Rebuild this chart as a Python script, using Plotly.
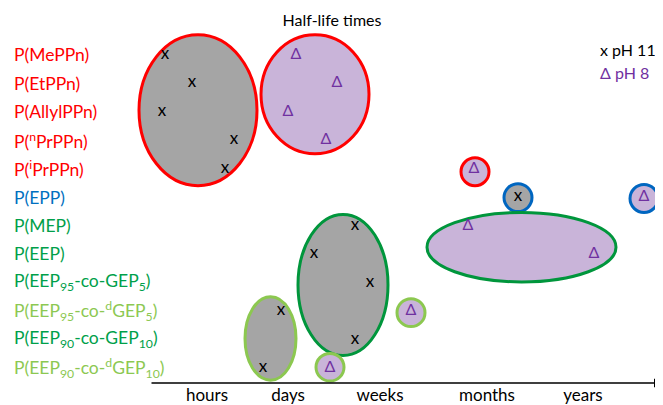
import plotly.graph_objects as go

# ---------------- data ----------------
polymers = [
    "P(MePPn)", "P(EtPPn)", "P(AllylPPn)", "P(<sup>n</sup>PrPPn)", "P(<sup>i</sup>PrPPn)",
    "P(EPP)", "P(MEP)", "P(EEP)", "P(EEP<sub>95</sub>-co-GEP<sub>5</sub>)",
    "P(EEP<sub>95</sub>-co-<sup>d</sup>GEP<sub>5</sub>)", "P(EEP<sub>90</sub>-co-GEP<sub>10</sub>)",
    "P(EEP<sub>90</sub>-co-<sup>d</sup>GEP<sub>10</sub>)",
]
polymer_family = ["red", "red", "red", "red", "red", "blue", "green", "green", "green",
                  "lightgreen", "green", "lightgreen"]

time_ticks = [77, 158, 250, 357, 453]          # arbitrary log-time units
time_labels = ["hours", "days", "weeks", "months", "years"]

# pH 11 half-lives (row index, log-time)
ph11_rows = [0, 1, 2, 3, 4, 5, 6, 7, 8, 10, 9, 11]
ph11_time = [35, 62, 32, 104, 95, 388, 225, 184, 240, 225, 151, 133]

# pH 8 half-lives
ph8_rows = [0, 1, 2, 3, 4, 5, 6, 7, 9, 11]
ph8_time = [166, 207, 158, 196, 344, 514, 338, 464, 281, 200]

# grouping ellipses: (time_min, time_max, row_min, row_max, family, condition)
groups = [
    (9, 127, -0.70, 4.60, "red", "pH11"),
    (131, 239, -0.70, 3.48, "red", "pH8"),
    (331, 359, 3.62, 4.60, "red", "pH8"),
    (374, 402, 4.53, 5.51, "blue", "pH11"),
    (500, 528, 4.56, 5.54, "blue", "pH8"),
    (297, 486, 5.54, 7.98, "green", "pH8"),
    (168, 258, 5.61, 10.56, "green", "pH11"),
    (115, 166, 8.50, 11.43, "lightgreen", "pH11"),
    (267, 295, 8.57, 9.55, "lightgreen", "pH8"),
    (186, 214, 10.49, 11.46, "lightgreen", "pH8"),
]

# ---------------- styles ----------------
FONT = "Lato"
label_colors = {"red": "#FF0000", "blue": "#0070C0", "green": "#00A04A", "lightgreen": "#8CC852"}
line_colors = {"red": "#FF0000", "blue": "#0066C0", "green": "#00963C", "lightgreen": "#8CC850"}
fill_colors = {"pH11": "#A5A5A5", "pH8": "#C9B4D9"}
PURPLE = "#7030A0"

X_RANGE = [0, 533]
Y_RANGE = [11.53, -1.638]

fig = go.Figure()

shapes = []
for (x0, x1, y0, y1, fam, cond) in groups:
    shapes.append(dict(type="circle", xref="x", yref="y", x0=x0, x1=x1, y0=y0, y1=y1,
                       fillcolor=fill_colors[cond], line=dict(color=line_colors[fam], width=3),
                       layer="below"))

fig.add_trace(go.Scatter(x=ph11_time, y=ph11_rows, mode="text", text=["x"] * len(ph11_time),
                         textfont=dict(family=FONT, size=17, color="black"),
                         cliponaxis=False, showlegend=False, hoverinfo="skip"))
fig.add_trace(go.Scatter(x=ph8_time, y=ph8_rows, mode="text", text=["Δ"] * len(ph8_time),
                         textfont=dict(family=FONT, size=16, color=PURPLE),
                         cliponaxis=False, showlegend=False, hoverinfo="skip"))

annotations = []
for i, (name, fam) in enumerate(zip(polymers, polymer_family)):
    annotations.append(dict(xref="paper", yref="y", x=-0.2214, y=i, xanchor="left", yanchor="middle",
                            text=name, showarrow=False,
                            font=dict(family=FONT, size=17.5, color=label_colors[fam])))

# axis arrow
annotations.append(dict(xref="x", yref="y", axref="x", ayref="y", x=X_RANGE[1], y=Y_RANGE[0],
                        ax=20, ay=Y_RANGE[0], text="", showarrow=True, arrowhead=2,
                        arrowsize=1.2, arrowwidth=1.5, arrowcolor="black", standoff=0))

# legend texts
annotations.append(dict(xref="x", yref="y", x=468, y=-0.17, xanchor="left", yanchor="middle",
                        text="x pH 11", showarrow=False, font=dict(family=FONT, size=16, color="black")))
annotations.append(dict(xref="x", yref="y", x=468, y=0.63, xanchor="left", yanchor="middle",
                        text="Δ pH 8", showarrow=False, font=dict(family=FONT, size=16, color=PURPLE)))

fig.update_layout(
    width=655, height=397,
    margin=dict(l=122, r=0, t=0, b=19),
    paper_bgcolor="white", plot_bgcolor="white",
    title=dict(text="Half-life times", x=0.4947, xanchor="center", y=0.970, yanchor="middle",
               font=dict(family=FONT, size=16, color="black")),
    shapes=shapes,
    annotations=annotations,
    xaxis=dict(range=X_RANGE, showgrid=False, zeroline=False, showline=False, ticks="",
               tickvals=time_ticks, ticktext=time_labels,
               tickfont=dict(family=FONT, size=17, color="black"), fixedrange=True),
    yaxis=dict(range=Y_RANGE, visible=False, fixedrange=True),
    showlegend=False,
)

fig.write_html("out.html")
